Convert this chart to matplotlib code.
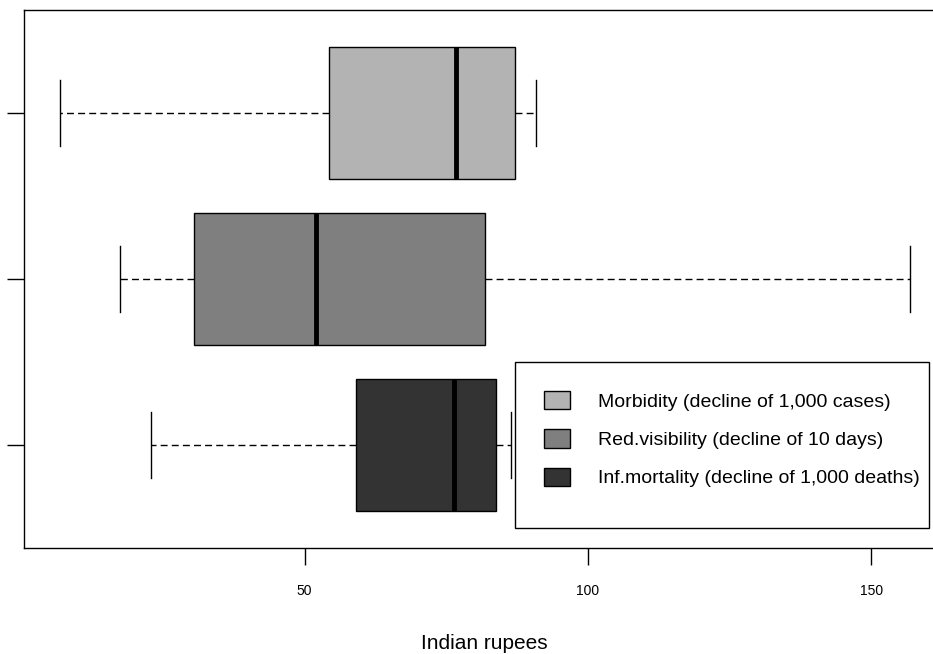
import matplotlib
matplotlib.use("Agg")
import matplotlib.pyplot as plt
from matplotlib.patches import Patch, Rectangle

plt.rcParams['font.family'] = ['Liberation Sans', 'DejaVu Sans']

# Cost estimates (Indian rupees) per outcome
labels = ["Morbidity (decline of 1,000 cases)",
          "Red.visibility (decline of 10 days)",
          "Inf.mortality (decline of 1,000 deaths)"]
whisker_low = [6.9, 17.4, 22.9]
q1 = [54.3, 30.5, 59.0]
median = [76.7, 52.0, 76.3]
q3 = [87.1, 81.8, 83.7]
whisker_high = [90.8, 156.8, 86.4]
colors = ["#B3B3B3", "#7F7F7F", "#333333"]
positions = [3, 2, 1]
xticks = [50, 100, 150]

fig = plt.figure(figsize=(9.33, 6.54), dpi=100)
ax = fig.add_axes([24 / 933, 1 - 548 / 654, 920 / 933, 538 / 654])

stats = []
for i in range(len(labels)):
    stats.append(dict(whislo=whisker_low[i], q1=q1[i], med=median[i],
                      q3=q3[i], whishi=whisker_high[i], fliers=[], label=""))

bp = ax.bxp(stats, positions=positions, vert=False, widths=0.8,
            patch_artist=True, showfliers=False, capwidths=0.4,
            boxprops=dict(edgecolor="black", linewidth=1.0),
            medianprops=dict(color="black", linewidth=3.5, solid_capstyle="butt"),
            whiskerprops=dict(color="black", linewidth=1.0, linestyle=(0, (5, 3))),
            capprops=dict(color="black", linewidth=1.0))
for patch, c in zip(bp["boxes"], colors):
    patch.set_facecolor(c)

ax.set_xlim(0.5, 162.8)
ax.set_ylim(0.38, 3.62)
ax.set_xticks(xticks)
ax.set_xticklabels([str(t) for t in xticks], fontsize=10)
ax.set_yticks(positions)
ax.set_yticklabels([])
ax.tick_params(axis="both", length=12, width=1.0, color="black", pad=14)
for sp in ax.spines.values():
    sp.set_linewidth(1.0)
ax.set_xlabel("Indian rupees", fontsize=15, labelpad=26)

# Legend with a plain square frame
fig.patches.append(Rectangle((515 / 933, 1 - 528 / 654), 414 / 933, 166 / 654,
                             transform=fig.transFigure, fill=False,
                             edgecolor="black", linewidth=1.0, zorder=5))
handles = [Patch(facecolor=c, edgecolor="black", linewidth=1.0) for c in colors]
fig.legend(handles, labels, loc="upper left",
           bbox_to_anchor=(544 / 933, 1 - 391 / 654),
           frameon=False, fontsize=14, handlelength=1.34, handleheight=1.08,
           handletextpad=1.44, labelspacing=0.95, borderpad=0, borderaxespad=0)

fig.savefig("out.png", dpi=100)
